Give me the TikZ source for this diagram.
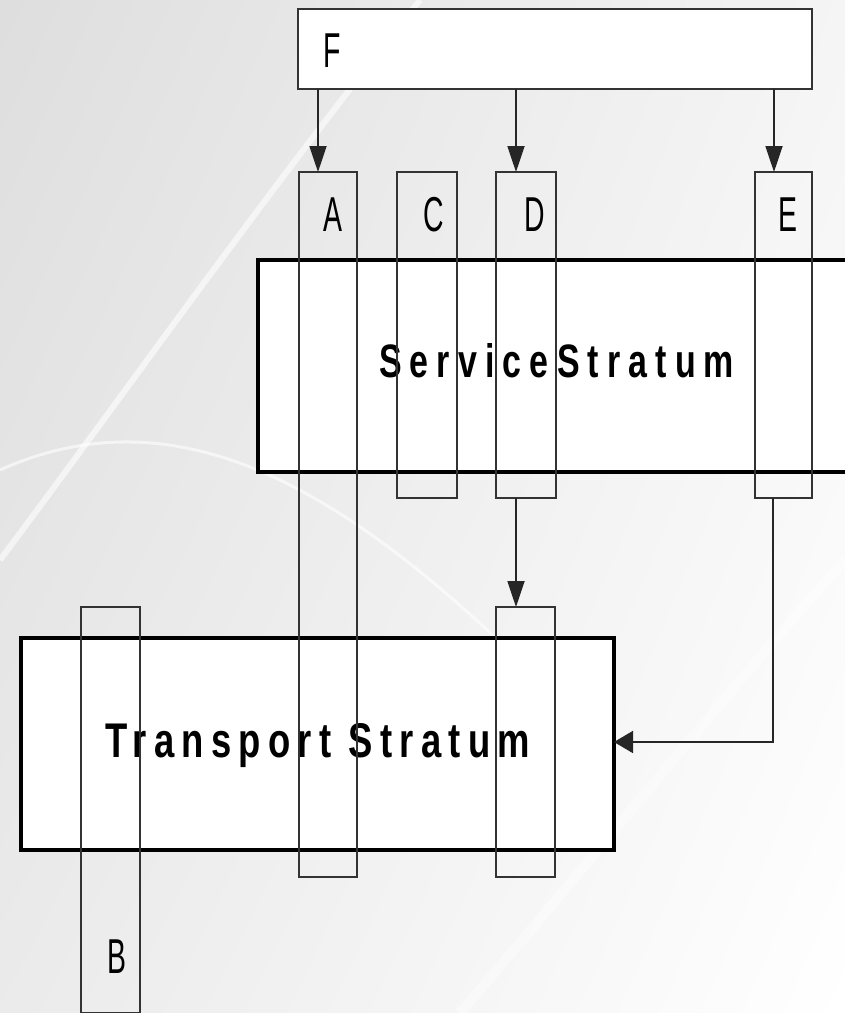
\documentclass[tikz,border=0pt]{standalone}
\usepackage{fontspec}
\usepackage{graphicx}
\setmainfont{Liberation Sans}
\usetikzlibrary{arrows.meta,shadings}
\newcommand\boxlbl[1]{\scalebox{0.58}[1]{\fontsize{49pt}{49pt}\selectfont #1}}
\tikzset{
  vbox/.style={draw=black!80, line width=1.8pt, rectangle, outer sep=0pt, inner sep=0pt, anchor=north west},
  stratum/.style={draw=black, line width=4.5pt, fill=white, rectangle, outer sep=0pt, inner sep=0pt, anchor=north west},
  topbox/.style={draw=black!80, line width=2.4pt, fill=white, rectangle, outer sep=0pt, inner sep=0pt, anchor=north west},
  lbl/.style={inner sep=0pt, anchor=center},
  conn/.style={draw=black!85, line width=1.8pt, -{Triangle[length=26pt,width=17pt]}},
  hconn/.style={draw=black!85, line width=1.8pt, -{Triangle[length=19pt,width=22pt]}}
}
\begin{document}
\begin{tikzpicture}[x=1pt,y=-1pt]
\useasboundingbox (0,0) rectangle (845,1013);
\clip (0,0) rectangle (845,1013);
% background
\shade[upper left=black!13, upper right=black!4, lower left=black!8, lower right=white] (0,0) rectangle (845,1013);
\draw[white, line width=6pt, opacity=0.6] (0,560) .. controls (120,400) and (260,200) .. (420,0);
\draw[white, line width=3pt, opacity=0.6] (0,470) .. controls (200,380) and (380,520) .. (560,700);
\draw[white, line width=10pt, opacity=0.4] (460,1013) .. controls (600,850) and (720,700) .. (845,560);

% F box
\node[topbox, minimum width=514pt, minimum height=80pt] (F) at (298,9) {};
\node[lbl] (Flab) at (332,51) {\boxlbl{F}};

% strata
\node[stratum, minimum width=620pt, minimum height=212pt] (SS) at (258,260) {};
\node[stratum, minimum width=593pt, minimum height=212pt] (TS) at (21,638) {};
\node[inner sep=0pt, anchor=base west] (SSlab) at (379,377)
  {\resizebox{355pt}{34pt}{\addfontfeatures{LetterSpace=24}\bfseries ServiceStratum}};
\node[inner sep=0pt, anchor=base west] (TSlab) at (105,757)
  {\resizebox{425pt}{34pt}{\addfontfeatures{LetterSpace=20}\bfseries Transport Stratum}};

% vertical boxes
\node[vbox, minimum width=58pt, minimum height=705pt] (A) at (299,172) {};
\node[vbox, minimum width=60pt, minimum height=326pt] (C) at (397,172) {};
\node[vbox, minimum width=60pt, minimum height=326pt] (D) at (496,172) {};
\node[vbox, minimum width=57pt, minimum height=326pt] (E) at (755,172) {};
\node[vbox, minimum width=59pt, minimum height=270pt] (D2) at (496,607) {};
\node[vbox, minimum width=59pt, minimum height=406pt] (B) at (81,607) {};

\node[lbl] (Alab) at (333,215) {\boxlbl{A}};
\node[lbl] (Clab) at (434,215) {\boxlbl{C}};
\node[lbl] (Dlab) at (535,215) {\boxlbl{D}};
\node[lbl] (Elab) at (788,215) {\boxlbl{E}};
\node[lbl] (Blab) at (117,957) {\boxlbl{B}};

% connectors
\draw[conn] (F.south -| 318,0) -- (A.north -| 318,0);
\draw[conn] (F.south -| 516,0) -- (D.north -| 516,0);
\draw[conn] (F.south -| 774,0) -- (E.north -| 774,0);
\draw[conn] (D.south -| 516,0) -- (D2.north -| 516,0);
\draw[hconn] (E.south -| 773,0) |- (TS.east |- 0,742);
\end{tikzpicture}
\end{document}
